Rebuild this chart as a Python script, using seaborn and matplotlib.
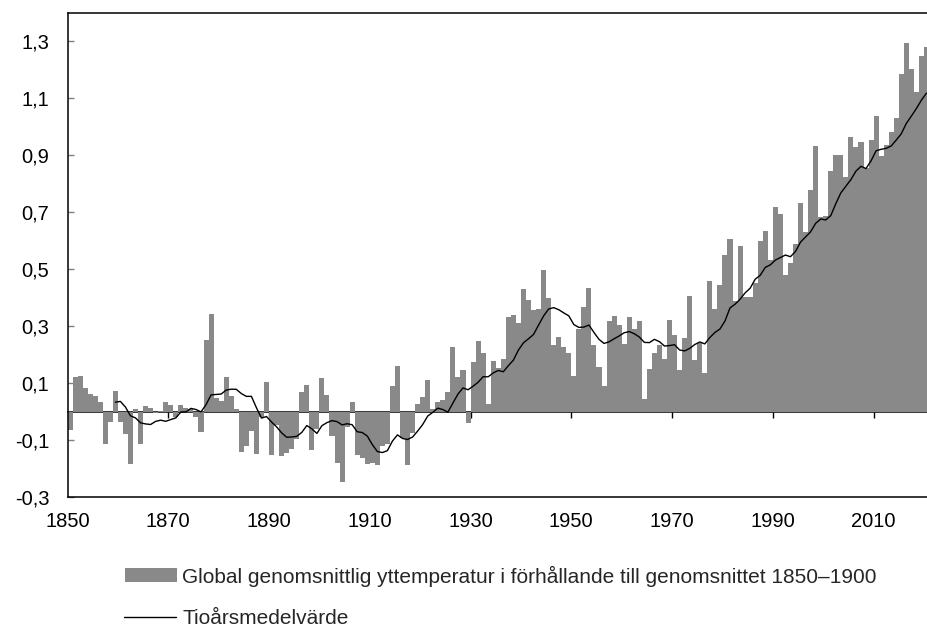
import matplotlib
matplotlib.use("Agg")
import matplotlib.pyplot as plt
import pandas as pd
import seaborn as sns
from matplotlib.patches import Patch
from matplotlib.lines import Line2D

# ---------------- data ----------------
years = list(range(1850, 2021))
anomaly = [
    -0.066, 0.120, 0.123, 0.082, 0.061, 0.055, 0.032, -0.115, -0.038, 0.072,   # 1850-1859
    -0.038, -0.078, -0.184, 0.008, -0.113, 0.018, 0.012, -0.004, 0.002, 0.034,  # 1860-1869
    0.022, -0.018, 0.023, 0.012, 0.008, -0.021, -0.072, 0.252, 0.343, 0.048,    # 1870-1879
    0.038, 0.120, 0.055, 0.008, -0.141, -0.121, -0.070, -0.148, -0.020, 0.102,  # 1880-1889
    -0.154, -0.048, -0.156, -0.147, -0.133, -0.097, 0.067, 0.093, -0.135, -0.060,  # 1890-1899
    0.119, 0.059, -0.086, -0.182, -0.248, -0.056, 0.032, -0.153, -0.162, -0.183,  # 1900-1909
    -0.180, -0.187, -0.121, -0.115, 0.088, 0.161, -0.094, -0.189, -0.075, 0.025,  # 1910-1919
    0.050, 0.110, 0.009, 0.033, 0.039, 0.068, 0.228, 0.122, 0.144, -0.041,     # 1920-1929
    0.175, 0.249, 0.205, 0.028, 0.176, 0.154, 0.183, 0.333, 0.339, 0.312,      # 1930-1939
    0.430, 0.391, 0.356, 0.359, 0.496, 0.397, 0.232, 0.260, 0.228, 0.207,      # 1940-1949
    0.125, 0.291, 0.367, 0.432, 0.233, 0.156, 0.089, 0.317, 0.335, 0.305,      # 1950-1959
    0.238, 0.333, 0.291, 0.316, 0.045, 0.148, 0.204, 0.234, 0.183, 0.322,      # 1960-1969
    0.268, 0.147, 0.259, 0.404, 0.180, 0.239, 0.136, 0.458, 0.359, 0.444,      # 1970-1979
    0.549, 0.606, 0.389, 0.579, 0.403, 0.403, 0.451, 0.597, 0.635, 0.532,      # 1980-1989
    0.717, 0.694, 0.479, 0.520, 0.588, 0.731, 0.631, 0.778, 0.933, 0.682,      # 1990-1999
    0.685, 0.845, 0.899, 0.899, 0.823, 0.963, 0.928, 0.946, 0.854, 0.954,      # 2000-2009
    1.038, 0.896, 0.934, 0.981, 1.031, 1.183, 1.292, 1.202, 1.122, 1.249,      # 2010-2019
    1.280,                                                                      # 2020
]
x_tick_years = [1850, 1870, 1890, 1910, 1930, 1950, 1970, 1990, 2010]
y_ticks = [-0.3, -0.1, 0.1, 0.3, 0.5, 0.7, 0.9, 1.1, 1.3]
y_tick_labels = ["-0,3", "-0,1", "0,1", "0,3", "0,5", "0,7", "0,9", "1,1", "1,3"]
bar_label = "Global genomsnittlig yttemperatur i förhållande till genomsnittet 1850–1900"
line_label = "Tioårsmedelvärde"

df = pd.DataFrame({"year": years, "anomaly": anomaly})
df["tioars"] = df["anomaly"].rolling(10).mean()

# ---------------- style ----------------
sns.set_theme(style="white")
plt.rcParams["font.family"] = ["Liberation Sans", "DejaVu Sans"]
BAR_COLOR = "#898989"

W, H = 927, 628
fig = plt.figure(figsize=(W / 100, H / 100), dpi=100)
ax_left, ax_right, ax_top, ax_bottom = 67.5, 929.0, 12.5, 497.0
ax = fig.add_axes([ax_left / W, (H - ax_bottom) / H,
                   (ax_right - ax_left) / W, (ax_bottom - ax_top) / H])

sns.barplot(data=df, x="year", y="anomaly", native_scale=True, width=1,
            color=BAR_COLOR, saturation=1, linewidth=0, edgecolor=BAR_COLOR,
            ax=ax, zorder=2)
sns.lineplot(data=df, x="year", y="tioars", color="black", linewidth=1.0,
             ax=ax, zorder=3)

ax.set_xlim(years[0] - 0.5, years[-1] + 0.5)
ax.set_ylim(-0.3, 1.4)
ax.set_xlabel("")
ax.set_ylabel("")

ax.set_xticks([y - 0.5 for y in x_tick_years])
ax.set_xticklabels([str(y) for y in x_tick_years])
ax.tick_params(axis="x", length=0, pad=11, labelsize=14.5, labelcolor="black")

ax.set_yticks(y_ticks)
ax.set_yticklabels(y_tick_labels)
ax.tick_params(axis="y", left=True, direction="in", length=4, width=1,
               color="#808080", pad=13, labelsize=14.5, labelcolor="black")

for side in ["top", "left", "bottom", "right"]:
    ax.spines[side].set_visible(True)
    ax.spines[side].set_color("black")
    ax.spines[side].set_linewidth(1.1)

# category axis crossing at zero, with outward tick marks and no labels
sec = ax.secondary_xaxis(0, transform=ax.transData)
sec.set_xticks([y - 0.5 for y in x_tick_years])
sec.tick_params(axis="x", direction="out", length=4.5, width=1, color="black",
                labelbottom=False)
sec.spines["bottom"].set_color("black")
sec.spines["bottom"].set_linewidth(1.1)

# ---------------- legend (two rows below the plot) ----------------
h_bar = Patch(facecolor=BAR_COLOR, edgecolor="none")
h_line = Line2D([], [], color="black", linewidth=1.0)
fig.legend(handles=[h_bar], labels=[bar_label], loc="center left",
           bbox_to_anchor=(125 / W, 1 - 576 / H), frameon=False, fontsize=15,
           handlelength=2.5, handleheight=0.62, handletextpad=0.25,
           borderpad=0, borderaxespad=0)
fig.legend(handles=[h_line], labels=[line_label], loc="center left",
           bbox_to_anchor=(124 / W, 1 - 618.5 / H), frameon=False, fontsize=15,
           handlelength=2.5, handletextpad=0.3, borderpad=0, borderaxespad=0)

fig.savefig("out.png", dpi=100)
